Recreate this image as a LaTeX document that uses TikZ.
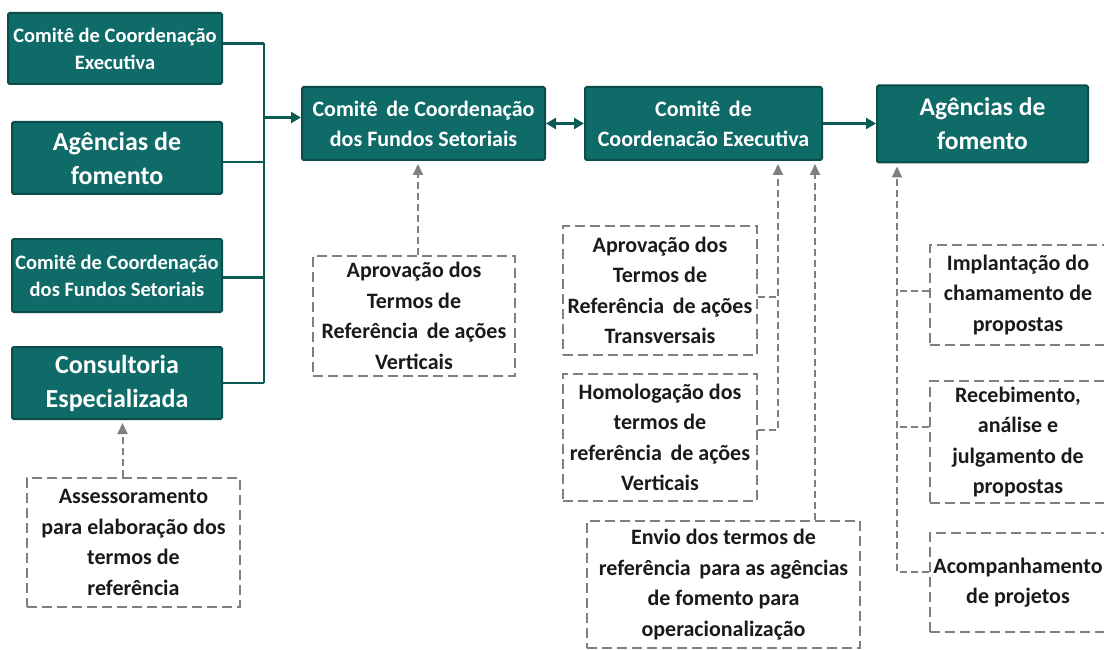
\documentclass[tikz,border=0pt]{standalone}
\usepackage{fontspec}
\setmainfont{Carlito}
\usetikzlibrary{arrows.meta,calc}
\definecolor{tealfill}{HTML}{0F6B68}
\definecolor{tealedge}{HTML}{0A4D4A}
\definecolor{tealline}{HTML}{0B5A56}
\definecolor{dgray}{HTML}{7F7F7F}
\definecolor{dtext}{HTML}{1A1A1A}
\begin{document}
\begin{tikzpicture}[x=1pt,y=-1pt,
  tbox/.style={draw=tealedge,fill=tealfill,line width=2pt,rounded corners=1.5pt,text=white,align=center,inner sep=0pt},
  dbox/.style={draw=dgray,line width=2.6pt,dash pattern=on 10pt off 5pt,text=dtext,align=center,inner sep=0pt,font=\fontsize{22}{30.5}\selectfont\bfseries},
  fsmall/.style={font=\fontsize{20.5}{27}\selectfont\bfseries},
  fmid/.style={font=\fontsize{22}{30}\selectfont\bfseries},
  fbig/.style={font=\fontsize{26}{34}\selectfont\bfseries},
  sline/.style={draw=tealline,line width=2.6pt},
  sarrow/.style={sline,-{Triangle[length=10pt,width=11pt]}},
  dline/.style={draw=dgray,line width=2pt,dash pattern=on 7pt off 4pt},
  darrow/.style={dline,-{Triangle[length=11pt,width=10pt]},shorten >=3pt}
]
\useasboundingbox (0,0) rectangle (1104,650);
\clip (0,0) rectangle (1104,650);

% left column
\node[tbox,fsmall,minimum width=214pt,minimum height=71pt] (b1) at (115,48.5) {Comitê de Coordenação\\Executiva};
\node[tbox,fbig,minimum width=210pt,minimum height=72pt] (b2) at (117,158) {Agências de\\fomento};
\node[tbox,fsmall,minimum width=210pt,minimum height=73pt] (b3) at (117,275.5) {Comitê de Coordenação\\dos Fundos Setoriais};
\node[tbox,fbig,minimum width=210pt,minimum height=72pt] (b4) at (117,383) {Consultoria\\Especializada};
\coordinate (bus) at (264,0);

% top row
\node[tbox,fmid,minimum width=243pt,minimum height=73pt] (c1) at (423.5,123.5) {Comitê \,de Coordenação\\dos Fundos Setoriais};
\node[tbox,fmid,minimum width=237pt,minimum height=73pt] (c2) at (703.5,123.5) {Comitê \,de\\Coordenacão Executiva};
\node[tbox,font=\fontsize{25.5}{34}\selectfont\bfseries,minimum width=211pt,minimum height=77pt] (c3) at (982.5,124) {Agências de\\fomento};

% dashed boxes
\node[dbox,minimum width=213pt,minimum height=129pt] (d0) at (133.5,542.5) {Assessoramento\\para elaboração dos\\termos de\\referência};
\node[dbox,minimum width=202pt,minimum height=120pt] (d1) at (414,316) {Aprovação dos\\Termos de\\Referência \,de ações\\Verticais};
\node[dbox,minimum width=194pt,minimum height=129pt] (d2) at (660,290.5) {Aprovação dos\\Termos de\\Referência \,de ações\\Transversais};
\node[dbox,minimum width=194pt,minimum height=127pt] (d3) at (660,437.5) {Homologação dos\\termos de\\referência \,de ações\\Verticais};
\node[dbox,minimum width=273pt,minimum height=127pt] (d4) at (723.5,584.5) {Envio dos termos de\\referência \,para as agências\\de fomento para\\operacionalização};
\node[dbox,minimum width=176pt,minimum height=100pt] (e1) at (1018,295) {Implantação do\\chamamento de\\propostas};
\node[dbox,minimum width=176pt,minimum height=122pt] (e2) at (1018,442) {Recebimento,\\análise e\\julgamento de\\propostas};
\node[dbox,minimum width=176pt,minimum height=99pt] (e3) at (1018,582.5) {Acompanhamento\\de projetos};

\coordinate (v1) at (778,0);
\coordinate (v2) at (815,0);
\coordinate (v3) at (897,0);

% solid connectors
\draw[sline] ([yshift=5pt]b1.east) -- ([yshift=5pt]b1.east -| bus);
\draw[sline] ([yshift=-4pt]b2.east) -- ([yshift=-4pt]b2.east -| bus);
\draw[sline] ([yshift=-2pt]b3.east) -- ([yshift=-2pt]b3.east -| bus);
\draw[sline] (b4.east) -- (b4.east -| bus);
\draw[sline] ([yshift=5pt]b1.east -| bus) -- (b4.east -| bus);
\draw[sarrow] ([yshift=6pt]c1.west -| bus) -- ([yshift=6pt]c1.west);
\draw[sline,{Triangle[length=10pt,width=11pt]}-{Triangle[length=10pt,width=11pt]}] (c1.east) -- (c2.west);
\draw[sarrow] (c2.east) -- (c2.east -| c3.west);

% dashed connectors
\draw[darrow] ([xshift=-11pt]d0.north) -- ([xshift=-11pt]d0.north |- b4.south);
\draw[darrow] ([xshift=4pt]d1.north) -- ([xshift=4pt]d1.north |- c1.south);
\draw[dline] ([yshift=-6.5pt]d2.east) -- ([yshift=-6.5pt]d2.east -| v1);
\draw[darrow] ([yshift=7.5pt]d3.east) -- ([yshift=7.5pt]d3.east -| v1) -- (v1 |- c2.south);
\draw[darrow] (d4.north -| v2) -- (v2 |- c2.south);
\draw[dline] ([yshift=4pt]e1.west) -- ([yshift=4pt]e1.west -| v3);
\draw[dline] ([yshift=15pt]e2.west) -- ([yshift=15pt]e2.west -| v3);
\draw[darrow] ([yshift=10.5pt]e3.west) -- ([yshift=10.5pt]e3.west -| v3) -- (v3 |- c3.south);
\end{tikzpicture}
\end{document}
